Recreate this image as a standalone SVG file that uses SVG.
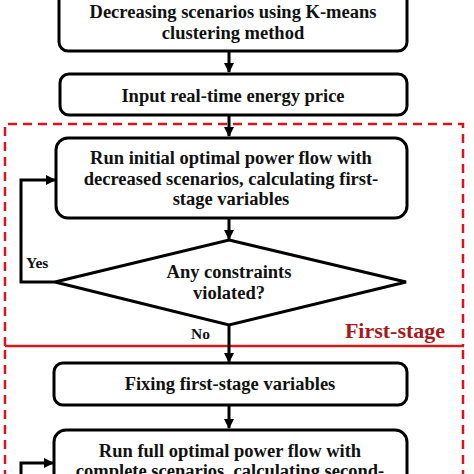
<svg xmlns="http://www.w3.org/2000/svg" width="474" height="474" viewBox="0 0 474 474">
<defs>
<marker id="ah" markerWidth="10" markerHeight="10" refX="9" refY="5" orient="auto" markerUnits="userSpaceOnUse">
<path d="M0,0 L10,5 L0,10 Z" fill="#000"/>
</marker>
<style>
.box{fill:#fff;stroke:#000;stroke-width:3}
.t{font-family:"Liberation Serif","Times New Roman",serif;font-weight:bold;font-size:18.5px;fill:#111;text-anchor:middle}
.lbl{font-family:"Liberation Serif","Times New Roman",serif;font-weight:bold;font-size:15.5px;fill:#111}
.c{fill:none;stroke:#000;stroke-width:3}
</style>
</defs>
<rect width="474" height="474" fill="#fff"/>
<g id="stage">
<path d="M5,346 V124 H463 V346" fill="none" stroke="#d9141c" stroke-width="2.5" stroke-dasharray="9 6"/>
<path d="M5,350 V474 M463,350 V474" fill="none" stroke="#d9141c" stroke-width="2.5" stroke-dasharray="9 6"/>
<line x1="5" y1="346" x2="464" y2="346" stroke="#d41b1b" stroke-width="2.5"/>
<text x="395" y="338" font-family="Liberation Serif,'Times New Roman',serif" font-weight="bold" font-size="22" fill="#a51a1a" text-anchor="middle">First-stage</text>
</g>
<g id="connectors">
<line class="c" x1="229" y1="51" x2="229" y2="72" marker-end="url(#ah)"/>
<line class="c" x1="229" y1="115" x2="229" y2="136" marker-end="url(#ah)"/>
<line class="c" x1="229" y1="218" x2="229" y2="239" marker-end="url(#ah)"/>
<line class="c" x1="229" y1="325" x2="229" y2="362" marker-end="url(#ah)"/>
<line class="c" x1="229" y1="405" x2="229" y2="428" marker-end="url(#ah)"/>
<path class="c" d="M55,282 H21 V180 H55" marker-end="url(#ah)"/>
<path class="c" d="M21,480 V463 H53" marker-end="url(#ah)"/>
<text class="lbl" x="26" y="268">Yes</text>
<text class="lbl" x="191" y="339">No</text>
</g>
<g id="n1">
<rect class="box" x="59" y="-10" width="348" height="61" rx="9"/>
<text class="t" x="233" y="18">Decreasing scenarios using K-means</text>
<text class="t" x="233" y="39">clustering method</text>
</g>
<g id="n2">
<rect class="box" x="60" y="74" width="347" height="41" rx="9"/>
<text class="t" x="233" y="102">Input real-time energy price</text>
</g>
<g id="n3">
<rect class="box" x="56" y="138" width="351" height="80" rx="12"/>
<text class="t" x="231" y="164">Run initial optimal power flow with</text>
<text class="t" x="231" y="185">decreased scenarios, calculating first-</text>
<text class="t" x="231" y="205">stage variables</text>
</g>
<g id="n4">
<polygon points="229,240 406,282 229,325 55,282" fill="#fff" stroke="#000" stroke-width="3"/>
<text class="t" x="229" y="278">Any constraints</text>
<text class="t" x="229" y="299">violated?</text>
</g>
<g id="n5">
<rect class="box" x="54" y="363" width="353" height="42" rx="9"/>
<text class="t" x="230" y="390">Fixing first-stage variables</text>
</g>
<g id="n6">
<rect class="box" x="54" y="430" width="353" height="60" rx="12"/>
<text class="t" x="230" y="457">Run full optimal power flow with</text>
<text class="t" x="230" y="477">complete scenarios, calculating second-</text>
</g>
</svg>
